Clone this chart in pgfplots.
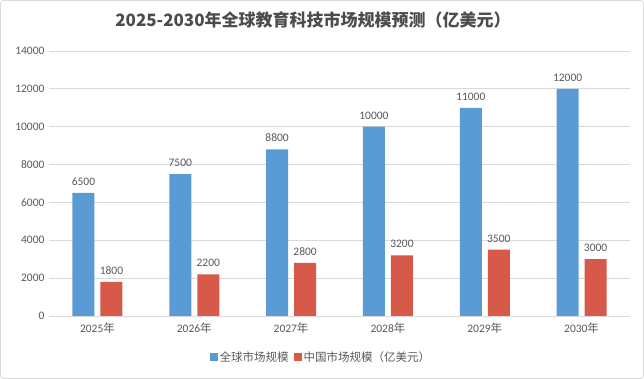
\documentclass[border=0pt]{standalone}
\usepackage{pgfplots}
\pgfplotsset{compat=1.18}
\usepackage{fontspec}
\setmainfont{Carlito}
\newfontfamily\cjk{Noto Sans CJK SC}
\definecolor{cblue}{HTML}{5B9BD5}
\definecolor{cred}{HTML}{D6594A}
\definecolor{ctext}{HTML}{595959}
\definecolor{cgrid}{HTML}{D9D9D9}
\begin{document}
\begin{tikzpicture}[x=1pt,y=1pt]
\useasboundingbox (0,0) rectangle (644,379);
\draw[cgrid, line width=0.8pt, rounded corners=3pt] (0.5,0.5) rectangle (643.5,378.5);
\node[font=\cjk\bfseries\fontsize{17}{19}\selectfont, text=ctext!85!black] at (313,359) {2025-2030年全球教育科技市场规模预测（亿美元）};
\begin{axis}[
  at={(49pt,63pt)}, anchor=south west,
  scale only axis, width=581pt, height=265pt,
  xmin=-0.5, xmax=5.5, ymin=0, ymax=14000,
  ytick={0,2000,...,14000},
  xtick={0,1,2,3,4,5},
  xticklabels={2025{\cjk 年},2026{\cjk 年},2027{\cjk 年},2028{\cjk 年},2029{\cjk 年},2030{\cjk 年}},
  ymajorgrids, grid style={cgrid, line width=0.8pt},
  axis x line*=bottom, axis y line*=left,
  y axis line style={draw=none},
  x axis line style={cgrid, line width=0.8pt, -},
  major tick length=0pt,
  ticklabel style={font=\fontsize{11.5}{13}\selectfont, text=ctext},
  yticklabel style={xshift=-1pt},
  xticklabel style={yshift=-3pt},
  /pgf/number format/assume math mode=true,
  /pgf/number format/1000 sep={},
  scaled y ticks=false,
  ybar, bar width=22pt,
  nodes near coords,
  nodes near coords style={font=\fontsize{11.5}{13}\selectfont, text=ctext, /pgf/number format/1000 sep={}, /pgf/number format/assume math mode=true, yshift=4pt},
  legend style={at={(0.468,-0.155)}, anchor=center, draw=none, fill=none, legend columns=2, font=\cjk\fontsize{11.5}{13}\selectfont, text=ctext, /tikz/every even column/.append style={column sep=3pt}},
  legend image code/.code={\fill[#1] (0pt,-4pt) rectangle (8pt,4pt);},
]
\addplot[draw=none, fill=cblue, bar shift=-14pt] coordinates {(0,6500) (1,7500) (2,8800) (3,10000) (4,11000) (5,12000)};
\addplot[draw=none, fill=cred, bar shift=14pt] coordinates {(0,1800) (1,2200) (2,2800) (3,3200) (4,3500) (5,3000)};
\legend{全球市场规模, 中国市场规模（亿美元）}
\end{axis}
\end{tikzpicture}
\end{document}
